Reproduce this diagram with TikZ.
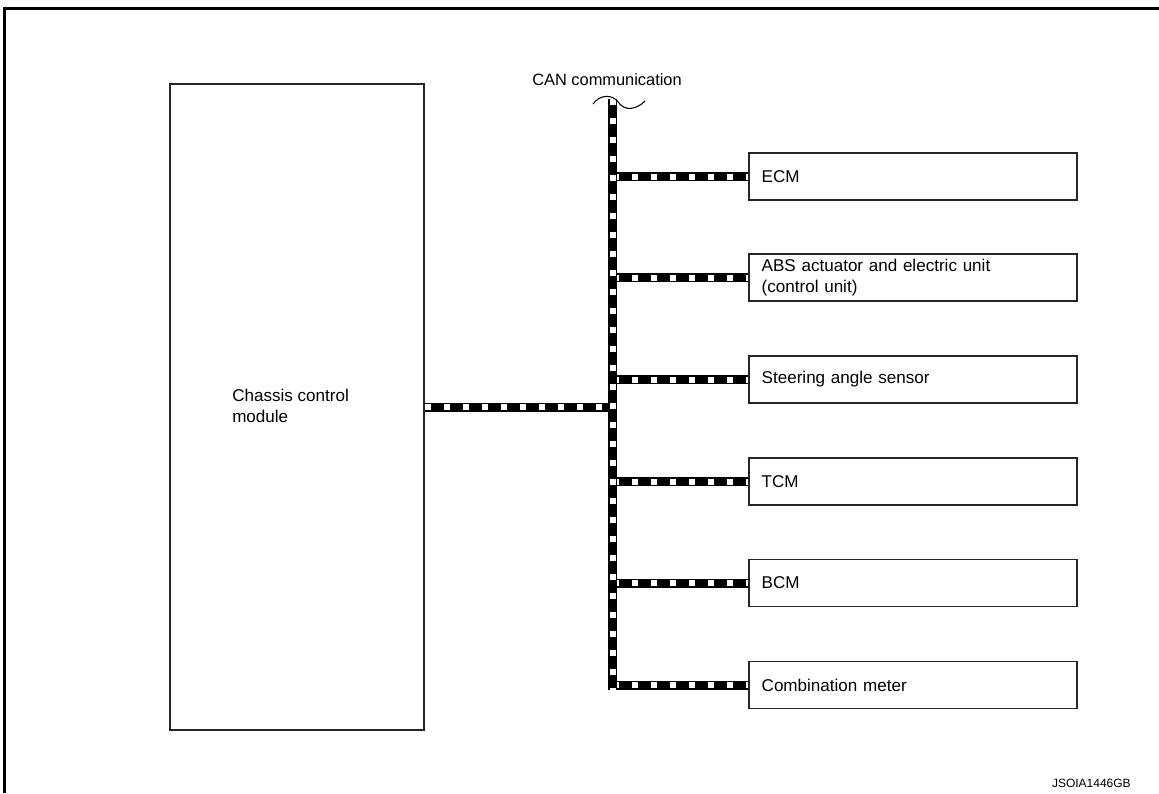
\documentclass[tikz,border=0pt]{standalone}
\usepackage{fontspec}
\setmainfont{Liberation Sans}
\begin{document}
\begin{tikzpicture}[x=0.75pt,y=-0.75pt,
  txt/.style={font=\fontsize{12.8}{15.5}\selectfont, inner sep=0pt},
  unitbox/.style={draw=black!85, line width=0.9pt, minimum width=246pt, minimum height=35.25pt,
    text width=227pt, inner xsep=9.5pt, inner ysep=0pt, align=left,
    font=\fontsize{12.8}{15.75}\selectfont},
  bigbox/.style={draw=black!85, line width=0.9pt, minimum width=190.5pt, minimum height=484.5pt, inner sep=0pt},
  canbus/.style={draw=black, line width=6.75pt, line cap=butt,
    postaction={draw=white, line width=4.5pt, dash pattern=on 4.5pt off 9.75pt}},
  frameline/.style={line width=2.25pt, black}]
\useasboundingbox (0,0) rectangle (1159,793);
\draw[frameline] (4,793) -- (4,8) -- (1159,8);

\node[bigbox] (ccm) at (297,407) {};
\node[txt, anchor=west, align=left] (ccmlbl) at (232,406) {Chassis control\\module};

\node[unitbox] (ecm) at (913,176.5) {ECM};
\node[unitbox] (abs) at (913,277.5) {ABS actuator and electric unit\\(control unit)};
\node[unitbox] (sas) at (913,379.5) {Steering angle sensor};
\node[unitbox] (tcm) at (913,481.5) {TCM};
\node[unitbox] (bcm) at (913,583) {BCM};
\node[unitbox] (meter) at (913,685) {Combination meter};

\coordinate (bustop) at (612.5,99);
\coordinate (busbot) at (612.5,690);

\foreach \n in {ecm,abs,sas,tcm,bcm,meter}
  \draw[canbus] (\n.west -| bustop) -- (\n.west);
\draw[canbus] (ccm.east) -- (ccm.east -| bustop);
\draw[canbus] (bustop) -- (busbot);

\node[txt, anchor=base west, font=\fontsize{12.3}{15}\selectfont] (canlbl) at (532,85) {CAN communication};
\draw[line width=0.8pt] (593,104) .. controls (600,94) and (613,94) .. (619,103)
  .. controls (625,111) and (636,110) .. (645,101);

\node[inner sep=0pt, anchor=base east, font=\fontsize{9}{11}\selectfont] (code) at (1131,787) {JSOIA1446GB};
\end{tikzpicture}
\end{document}
